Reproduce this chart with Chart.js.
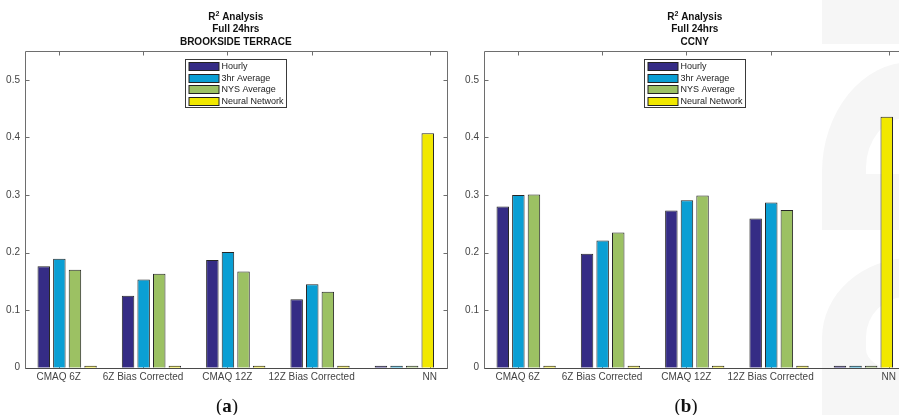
<!DOCTYPE html>
<html><head><meta charset="utf-8">
<script src="https://cdn.jsdelivr.net/npm/chart.js@4.4.1/dist/chart.umd.min.js"></script>
<style>
html,body{margin:0;padding:0;width:899px;height:415px;overflow:hidden;background:#fff;}
body{position:relative}
.wm{position:absolute;background:#f6f6f6}
.wh{position:absolute;background:#fff}
.wrap{position:absolute;top:0;width:450px;height:415px}
.cap{position:absolute;width:60px;text-align:center;font-family:'Liberation Serif','DejaVu Serif',serif;font-size:19px;line-height:19px;color:#111;}
</style></head><body>
<div class="wm" style="left:822px;top:0;width:77px;height:44px"></div>
<div class="wm" style="left:822px;top:62px;width:200px;height:168px;border-top-left-radius:90px 110px"></div>
<div class="wh" style="left:866px;top:118px;width:80px;height:56px;border-top-left-radius:40px 50px"></div>
<div class="wm" style="left:822px;top:258px;width:200px;height:160px;border-top-left-radius:90px 80px"></div>
<div class="wh" style="left:866px;top:297px;width:80px;height:72px;border-top-left-radius:40px 40px;border-bottom-left-radius:30px 20px"></div>
<div class="wrap" style="left:0"><canvas id="c1" width="450" height="415"></canvas></div>
<div class="wrap" style="left:459px"><canvas id="c2" width="450" height="415"></canvas></div>
<div class="cap" style="left:197px;top:396px">(<b>a</b>)</div>
<div class="cap" style="left:656px;top:396px">(<b>b</b>)</div>
<script>
// ---- data ----
const categories = ['CMAQ 6Z', '6Z Bias Corrected', 'CMAQ 12Z', '12Z Bias Corrected', 'NN'];
const groupIndex = [1, 2, 3, 4, 5];
const tickPositions = [0.9, 1.9, 2.9, 3.9, 5.3];
const seriesLabels = ['Hourly', '3hr Average', 'NYS Average', 'Neural Network'];
const seriesColors = ['#352c85', '#0a9fd4', '#9cc163', '#f1e800'];
const yTicks = [0, 0.1, 0.2, 0.3, 0.4, 0.5];
const yTickLabels = ['0', '0.1', '0.2', '0.3', '0.4', '0.5'];

const brooksideHourly = [0.176, 0.125, 0.187, 0.119, 0];
const brooksideThreeHr = [0.189, 0.153, 0.201, 0.145, 0];
const brooksideNYS = [0.170, 0.163, 0.167, 0.132, 0];
const brooksideNN = [0, 0, 0, 0, 0.407];

const ccnyHourly = [0.280, 0.198, 0.273, 0.259, 0];
const ccnyThreeHr = [0.300, 0.221, 0.291, 0.287, 0];
const ccnyNYS = [0.301, 0.235, 0.299, 0.274, 0];
const ccnyNN = [0, 0, 0, 0, 0.436];

const titleA = ['R\u00b2 Analysis', 'Full 24hrs', 'BROOKSIDE TERRACE'];
const titleB = ['R\u00b2 Analysis', 'Full 24hrs', 'CCNY'];

const SANS = '"Liberation Sans", Arial, Helvetica, sans-serif';

const matlabPlugin = {
  id: 'matlab',
  beforeDatasetsDraw(chart) {
    const ctx = chart.ctx, ca = chart.chartArea;
    const L = Math.round(ca.left) + 0.5, R = Math.round(ca.right) + 0.5;
    const T = Math.round(ca.top) + 0.5, B = Math.round(ca.bottom) + 0.5;
    ctx.save();
    ctx.strokeStyle = '#6e6e6e';
    ctx.lineWidth = 1;
    ctx.beginPath();
    ctx.moveTo(L, B); ctx.lineTo(L, T); ctx.lineTo(R, T); ctx.lineTo(R, B);
    const ys = chart.scales.y, xs = chart.scales.x;
    ys.ticks.forEach(t => {
      const y = Math.round(ys.getPixelForValue(t.value)) + 0.5;
      ctx.moveTo(L, y); ctx.lineTo(L + 4, y);
      ctx.moveTo(R, y); ctx.lineTo(R - 4, y);
    });
    xs.ticks.forEach(t => {
      const x = Math.round(xs.getPixelForValue(t.value)) + 0.5;
      ctx.moveTo(x, T); ctx.lineTo(x, T + 4);
      ctx.moveTo(x, B); ctx.lineTo(x, B - 4);
    });
    ctx.stroke();
    ctx.strokeStyle = '#4a4a4a';
    ctx.beginPath(); ctx.moveTo(L, B); ctx.lineTo(R, B); ctx.stroke();
    ctx.restore();
  },
  afterDatasetsDraw(chart) {
    const ctx = chart.ctx, ca = chart.chartArea;
    const cx = (ca.left + ca.right) / 2;
    const w = 100.7, h = 48.4;
    const lx = Math.round(cx - w / 2) + 0.5, ly = Math.round(ca.top + 8.3) + 0.5;
    ctx.save();
    ctx.fillStyle = '#fff';
    ctx.fillRect(lx, ly, w, h);
    ctx.strokeStyle = '#3a3a3a';
    ctx.lineWidth = 1;
    ctx.strokeRect(lx, ly, Math.round(w), Math.round(h));
    ctx.font = '9px ' + SANS;
    ctx.textBaseline = 'middle';
    ctx.textAlign = 'left';
    chart.data.datasets.forEach((ds, i) => {
      const y0 = Math.round(ly + 2.7 + i * 11.5);
      ctx.fillStyle = ds.backgroundColor;
      ctx.fillRect(lx + 3.5, y0 + 0.5, 30, 8);
      ctx.strokeStyle = '#222';
      ctx.strokeRect(lx + 3.5, y0 + 0.5, 30, 8);
      ctx.fillStyle = '#222';
      ctx.fillText(ds.label, lx + 36, y0 + 5);
    });
    ctx.restore();
  },
  afterDraw(chart, args, opts) {
    const ctx = chart.ctx, ca = chart.chartArea;
    const cx = (ca.left + ca.right) / 2;
    const baselines = [19.5, 32.3, 45];
    ctx.save();
    ctx.fillStyle = '#111';
    ctx.textBaseline = 'alphabetic';
    opts.lines.forEach((line, i) => {
      const idx = line.indexOf('\u00b2');
      if (idx >= 0) {
        const a = line.slice(0, idx), b = line.slice(idx + 1);
        ctx.font = 'bold 10px ' + SANS;
        const wa = ctx.measureText(a).width, wb = ctx.measureText(b).width;
        ctx.font = 'bold 7px ' + SANS;
        const ws = ctx.measureText('2').width;
        let x = cx - (wa + ws + wb) / 2;
        ctx.textAlign = 'left';
        ctx.font = 'bold 10px ' + SANS;
        ctx.fillText(a, x, baselines[i]);
        ctx.font = 'bold 7px ' + SANS;
        ctx.fillText('2', x + wa, baselines[i] - 4);
        ctx.font = 'bold 10px ' + SANS;
        ctx.fillText(b, x + wa + ws, baselines[i]);
      } else {
        ctx.textAlign = 'center';
        ctx.font = 'bold 10px ' + SANS;
        ctx.fillText(line, cx, baselines[i]);
      }
    });
    ctx.restore();
  }
};

function makeChart(id, values, title) {
  const datasets = values.map((vals, i) => ({
    label: seriesLabels[i],
    data: vals.map((v, j) => ({ x: groupIndex[j], y: v })),
    backgroundColor: seriesColors[i],
    borderColor: '#262626',
    borderWidth: 1,
    minBarLength: 2,
    categoryPercentage: 0.74,
    barPercentage: 0.8
  }));
  return new Chart(document.getElementById(id), {
    type: 'bar',
    data: { datasets },
    plugins: [matlabPlugin],
    options: {
      responsive: false,
      animation: false,
      layout: { padding: { top: 51, right: 3.5, bottom: 27.3, left: 0 } },
      plugins: {
        legend: { display: false },
        title: { display: false },
        tooltip: { enabled: false },
        matlab: { lines: title }
      },
      scales: {
        x: {
          type: 'linear', min: 0.5, max: 5.5, offset: false,
          grid: { display: false, drawTicks: false },
          border: { display: false },
          afterBuildTicks: s => { s.ticks = tickPositions.map(v => ({ value: v })); },
          afterFit: s => { s.height = 20; },
          ticks: {
            autoSkip: false, maxRotation: 0, minRotation: 0, padding: 4,
            color: '#444', font: { family: SANS, size: 10 },
            callback: (v, i) => categories[i]
          }
        },
        y: {
          min: 0, max: 0.55,
          grid: { display: false, drawTicks: false },
          border: { display: false },
          afterBuildTicks: s => { s.ticks = yTicks.map(v => ({ value: v })); },
          afterFit: s => { s.width = 25; },
          ticks: {
            padding: 5, color: '#444', font: { family: SANS, size: 10 },
            callback: (v, i) => yTickLabels[i]
          }
        }
      }
    }
  });
}

makeChart('c1', [brooksideHourly, brooksideThreeHr, brooksideNYS, brooksideNN], titleA);
makeChart('c2', [ccnyHourly, ccnyThreeHr, ccnyNYS, ccnyNN], titleB);
</script>
</body></html>
